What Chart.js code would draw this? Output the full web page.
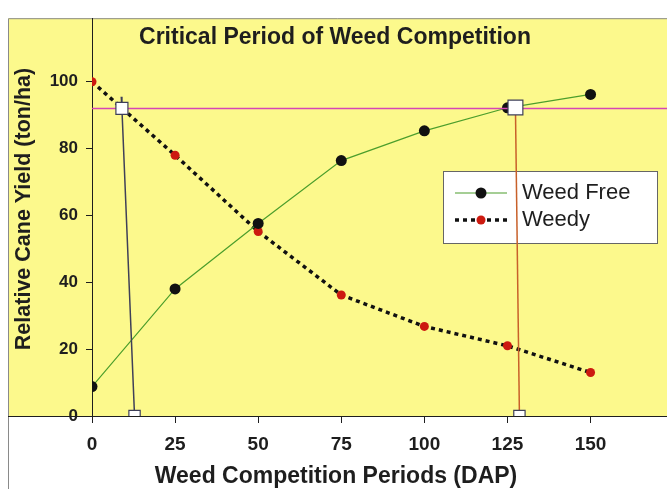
<!DOCTYPE html>
<html>
<head>
<meta charset="utf-8">
<script src="https://cdn.jsdelivr.net/npm/chart.js@4.4.1/dist/chart.umd.min.js"></script>
<style>
  html, body { margin: 0; padding: 0; background: #ffffff; overflow: hidden; }
  canvas { display: block; width: 667px; height: 489px; }
</style>
</head>
<body>
<canvas id="chart" width="667" height="489"></canvas>
<script>
// data
var periods = [0, 25, 50, 75, 100, 125, 150];
var weedFree = [8.8, 38, 57.6, 76.4, 85.3, 92.2, 96.2];
var weedy = [100, 78, 55.2, 36.2, 26.8, 21, 13];
var criticalLevel = 92;
var startMarker = [{x: 8.8, y: 95.5}, {x: 9, y: 92}, {x: 12.8, y: 0}];
var endMarker = [{x: 127.4, y: 92.3}, {x: 128.6, y: 0}];
var xTicks = [0, 25, 50, 75, 100, 125, 150];
var yTicks = [0, 20, 40, 60, 80, 100];
var titleText = 'Critical Period of Weed Competition';
var xTitle = 'Weed Competition Periods (DAP)';
var yTitle = 'Relative Cane Yield (ton/ha)';

var YELLOW = '#fcf98c';
var INK = '#1e1e1e';

function toPoints(xs, ys) {
    return xs.map(function (x, i) { return {x: x, y: ys[i]}; });
}

var backdrop = {
    id: 'backdrop',
    beforeDraw: function (chart) {
        var ctx = chart.ctx, area = chart.chartArea;
        ctx.save();
        ctx.fillStyle = YELLOW;
        ctx.fillRect(8, area.top, chart.width - 8, area.bottom - area.top);
        ctx.strokeStyle = '#8a8a8a';
        ctx.lineWidth = 1;
        ctx.beginPath();
        ctx.moveTo(8.5, chart.height);
        ctx.lineTo(8.5, area.top + 0.5);
        ctx.lineTo(chart.width, area.top + 0.5);
        ctx.stroke();
        ctx.strokeStyle = INK;
        ctx.beginPath();
        ctx.moveTo(8, area.bottom + 0.5);
        ctx.lineTo(area.left, area.bottom + 0.5);
        ctx.stroke();
        ctx.restore();
    }
};

var texts = {
    id: 'texts',
    afterDraw: function (chart) {
        var ctx = chart.ctx, area = chart.chartArea;
        ctx.save();
        ctx.fillStyle = INK;
        ctx.textAlign = 'center';
        ctx.textBaseline = 'middle';
        ctx.font = 'bold 23px "Liberation Sans", Arial, sans-serif';
        ctx.fillText(titleText, 335, area.top + 19);
        ctx.fillText(xTitle, 336, 477);
        ctx.font = 'bold 21.5px "Liberation Sans", Arial, sans-serif';
        ctx.translate(24, 209);
        ctx.rotate(-Math.PI / 2);
        ctx.fillText(yTitle, 0, 0);
        ctx.restore();
    }
};

// legend box sits under the datasets (the red marker line crosses it)
var boxLegend = {
    id: 'boxLegend',
    beforeDatasetsDraw: function (chart) {
        var ctx = chart.ctx;
        var items = [chart.data.datasets[3], chart.data.datasets[4]];
        ctx.save();
        ctx.fillStyle = '#ffffff';
        ctx.fillRect(443, 171, 214, 72);
        ctx.strokeStyle = '#666666';
        ctx.lineWidth = 1;
        ctx.strokeRect(443.5, 171.5, 214, 72);
        items.forEach(function (ds, i) {
            var y = 193 + i * 27;
            ctx.strokeStyle = ds.borderColor;
            ctx.lineWidth = ds.borderWidth;
            ctx.setLineDash(ds.borderDash || []);
            ctx.beginPath();
            ctx.moveTo(455, y);
            ctx.lineTo(507, y);
            ctx.stroke();
            ctx.setLineDash([]);
            ctx.fillStyle = ds.pointBackgroundColor;
            ctx.beginPath();
            ctx.arc(481, y, ds.pointRadius, 0, Math.PI * 2);
            ctx.fill();
            ctx.fillStyle = INK;
            ctx.font = '22px "Liberation Sans", Arial, sans-serif';
            ctx.textAlign = 'left';
            ctx.textBaseline = 'middle';
            ctx.fillText(ds.label, 522, y);
        });
        ctx.restore();
    }
};

var ctx = document.getElementById('chart').getContext('2d');
new Chart(ctx, {
    type: 'scatter',
    data: {
        datasets: [
            {
                label: 'start',
                data: startMarker,
                showLine: true,
                borderColor: '#3e3f58',
                borderWidth: 1.5,
                pointStyle: 'rect',
                pointRadius: [0, 8.5, 8],
                pointBackgroundColor: '#ffffff',
                pointBorderColor: '#3e3f58',
                pointBorderWidth: 1.2
            },
            {
                label: 'end',
                data: endMarker,
                showLine: true,
                borderColor: '#c8602a',
                borderWidth: 1.5,
                pointStyle: 'rect',
                pointRadius: [10.5, 8],
                pointBackgroundColor: '#ffffff',
                pointBorderColor: '#3e3f58',
                pointBorderWidth: 1.2
            },
            {
                label: 'level',
                data: [{x: 0, y: criticalLevel}, {x: 173, y: criticalLevel}],
                showLine: true,
                borderColor: '#d646b4',
                borderWidth: 1.5,
                pointRadius: 0
            },
            {
                label: 'Weed Free',
                data: toPoints(periods, weedFree),
                showLine: true,
                borderColor: '#4c9e2c',
                borderWidth: 1.2,
                pointRadius: 5.5,
                pointBackgroundColor: '#111111',
                pointBorderColor: '#111111',
                pointBorderWidth: 0
            },
            {
                label: 'Weedy',
                data: toPoints(periods, weedy),
                showLine: true,
                borderColor: '#111111',
                borderWidth: 3.5,
                borderDash: [4, 4],
                pointRadius: 4.5,
                pointBackgroundColor: '#cc1a10',
                pointBorderColor: '#cc1a10',
                pointBorderWidth: 0
            }
        ]
    },
    options: {
        responsive: false,
        animation: false,
        devicePixelRatio: 1,
        layout: {autoPadding: false, padding: {top: 12, right: 0, left: 0, bottom: 0}},
        plugins: {legend: {display: false}, tooltip: {enabled: false}, title: {display: false}},
        scales: {
            x: {
                type: 'linear',
                min: 0,
                max: 173,
                afterBuildTicks: function (scale) {
                    scale.ticks = xTicks.map(function (v) { return {value: v}; });
                },
                afterFit: function (scale) {
                    scale.height = 73;
                    scale.paddingLeft = 0;
                    scale.paddingRight = 0;
                },
                grid: {display: true, drawOnChartArea: false, tickLength: 7, color: INK},
                border: {display: true, color: INK, width: 1},
                ticks: {
                    color: INK,
                    padding: 10,
                    maxRotation: 0,
                    font: {family: '"Liberation Sans", Arial, sans-serif', size: 19, weight: 'bold'}
                }
            },
            y: {
                type: 'linear',
                min: 0,
                max: 119,
                afterBuildTicks: function (scale) {
                    scale.ticks = yTicks.map(function (v) { return {value: v}; });
                },
                afterFit: function (scale) { scale.width = 92; },
                grid: {display: true, drawOnChartArea: false, tickLength: 6, color: INK},
                border: {display: true, color: INK, width: 1},
                ticks: {
                    color: INK,
                    padding: 8,
                    font: {family: '"Liberation Sans", Arial, sans-serif', size: 17, weight: 'bold'}
                }
            }
        }
    },
    plugins: [backdrop, boxLegend, texts]
});
</script>
</body>
</html>
